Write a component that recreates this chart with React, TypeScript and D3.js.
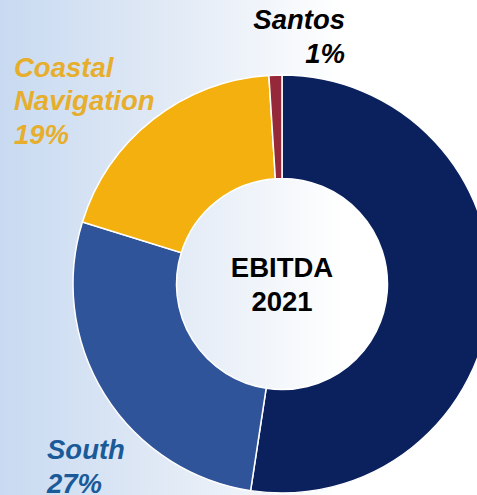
import React from "react";
import * as d3 from "d3";

const categories = ["North", "South", "Coastal Navigation", "Santos"];
const values = [52.4, 27.4, 19.2, 1.0];
const sliceColors = ["#0b215e", "#30549a", "#f3b00f", "#95293a"];
const labelColors = ["#0b215e", "#1a5a99", "#e6ae2c", "#000000"];

const W = 477;
const H = 495;

export default function App() {
  const cx = 282;
  const cy = 284;
  const outerR = 209;
  const innerR = 105.5;
  const total = d3.sum(values);
  const pie = d3.pie<number>().sort(null).startAngle(0).endAngle(2 * Math.PI);
  const arcs = pie(values);
  const arc = d3.arc<d3.PieArcDatum<number>>().innerRadius(innerR).outerRadius(outerR);
  const pct = (v: number) => `${Math.round((v / total) * 100)}%`;
  const fs = 27.5;
  const font = "'Liberation Sans', Arial, sans-serif";

  return (
    <svg width={W} height={H} style={{ position: "fixed", left: 0, top: 0 }} fontFamily={font}>
      <defs>
        <linearGradient id="bg" x1="0" y1="0" x2="1" y2="0">
          <stop offset="0" stopColor="#c8daf1" />
          <stop offset="0.38" stopColor="#e3ebf6" />
          <stop offset="0.72" stopColor="#ffffff" />
          <stop offset="1" stopColor="#ffffff" />
        </linearGradient>
      </defs>
      <rect x={0} y={0} width={W} height={H} fill="url(#bg)" />
      <g transform={`translate(${cx},${cy})`}>
        {arcs.map((a, i) => (
          <path key={categories[i]} d={arc(a) || ""} fill={sliceColors[i]} stroke="#ffffff" strokeWidth={1.5} />
        ))}
      </g>
      <g fontWeight="bold" fontSize={fs} textAnchor="middle" fill="#000">
        <text x={cx} y={277}>EBITDA</text>
        <text x={cx} y={311}>2021</text>
      </g>
      <g fontWeight="bold" fontStyle="italic" fontSize={fs}>
        <g fill={labelColors[3]} textAnchor="end">
          <text x={345} y={29}>{categories[3]}</text>
          <text x={345} y={63}>{pct(values[3])}</text>
        </g>
        <g fill={labelColors[2]}>
          <text x={14} y={77}>Coastal</text>
          <text x={14} y={110}>Navigation</text>
          <text x={14} y={144}>{pct(values[2])}</text>
        </g>
        <g fill={labelColors[1]}>
          <text x={47} y={459}>{categories[1]}</text>
          <text x={47} y={493}>{pct(values[1])}</text>
        </g>
      </g>
    </svg>
  );
}
